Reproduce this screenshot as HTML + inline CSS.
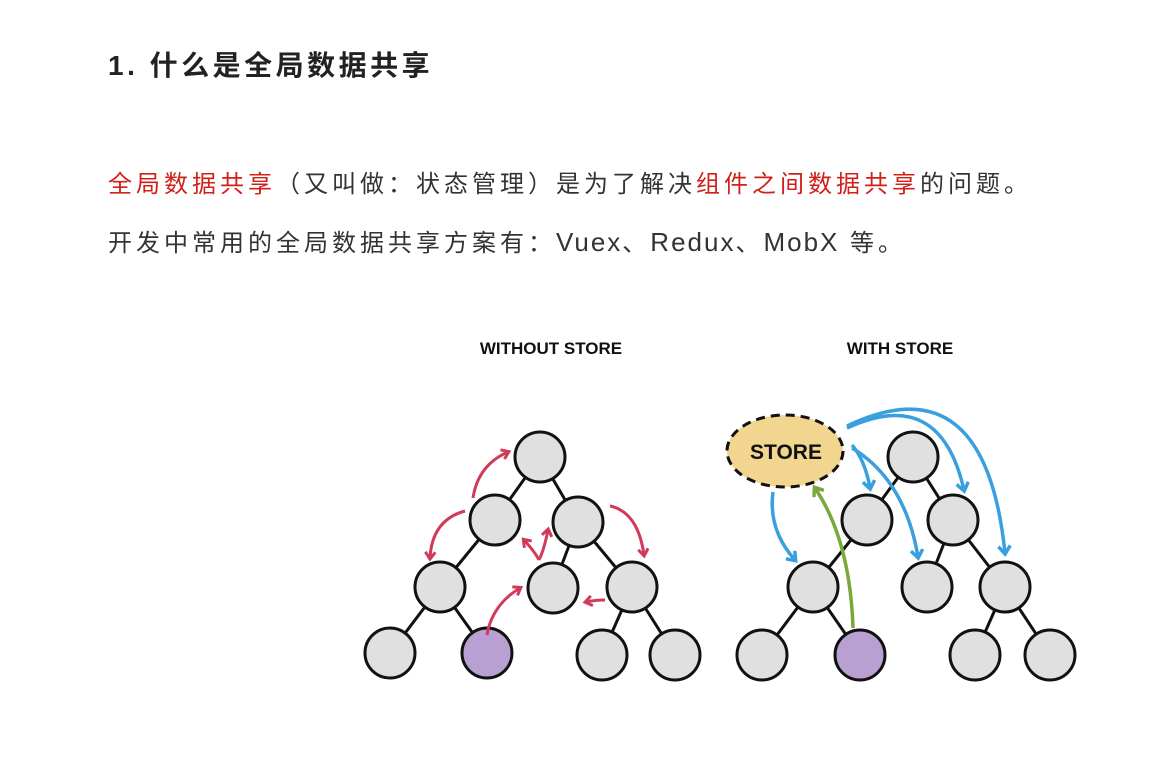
<!DOCTYPE html>
<html><head><meta charset="utf-8"><style>
body{margin:0;width:1161px;height:772px;background:#fff;overflow:hidden;position:relative;font-family:"Liberation Sans","Noto Sans CJK SC",sans-serif;}
.t{position:absolute;left:108px;top:44px;font-size:28px;font-weight:bold;color:#222;letter-spacing:3.5px;white-space:nowrap}
.p{position:absolute;left:108px;font-size:24px;color:#333;letter-spacing:4px;white-space:nowrap}
.r{color:#d0201a}
.l{letter-spacing:2px;font-size:26px}
svg{position:absolute;left:0;top:0}
</style></head><body>
<div class="t">1. 什么是全局数据共享</div>
<div class="p" style="top:164px"><span class="r">全局数据共享</span>（又叫做：状态管理）是为了解决<span class="r">组件之间数据共享</span>的问题。</div>
<div class="p" style="top:223px">开发中常用的全局数据共享方案有：<span class="l">Vuex</span>、<span class="l">Redux</span>、<span class="l">MobX</span> 等。</div>
<svg width="1161" height="772" viewBox="0 0 1161 772">
<defs>
<marker id="ar" markerWidth="12" markerHeight="12" refX="7" refY="6" orient="auto" markerUnits="userSpaceOnUse"><path d="M1,1 L8,6 L1,11" fill="none" stroke="#d23a5a" stroke-width="3"/></marker>
<marker id="ab" markerWidth="14" markerHeight="14" refX="8" refY="7" orient="auto" markerUnits="userSpaceOnUse"><path d="M1,1 L9,7 L1,13" fill="none" stroke="#3aa0dd" stroke-width="3.5"/></marker>
<marker id="ag" markerWidth="14" markerHeight="14" refX="8" refY="7" orient="auto" markerUnits="userSpaceOnUse"><path d="M1,1 L9,7 L1,13" fill="none" stroke="#7aa83a" stroke-width="3.5"/></marker>
</defs>
<text x="551" y="354" font-family="Liberation Sans" font-weight="bold" font-size="17" text-anchor="middle" fill="#111">WITHOUT STORE</text>
<text x="900" y="354" font-family="Liberation Sans" font-weight="bold" font-size="17" text-anchor="middle" fill="#111">WITH STORE</text>
<g stroke="#111" stroke-width="3">
<line x1="540" y1="457" x2="495" y2="520"/><line x1="540" y1="457" x2="578" y2="522"/>
<line x1="495" y1="520" x2="440" y2="587"/><line x1="578" y1="522" x2="553" y2="588"/><line x1="578" y1="522" x2="632" y2="587"/>
<line x1="440" y1="587" x2="390" y2="653"/><line x1="440" y1="587" x2="487" y2="653"/>
<line x1="632" y1="587" x2="602" y2="655"/><line x1="632" y1="587" x2="675" y2="655"/>
<line x1="913" y1="457" x2="867" y2="520"/><line x1="913" y1="457" x2="953" y2="520"/>
<line x1="867" y1="520" x2="813" y2="587"/><line x1="953" y1="520" x2="927" y2="587"/><line x1="953" y1="520" x2="1005" y2="587"/>
<line x1="813" y1="587" x2="762" y2="655"/><line x1="813" y1="587" x2="860" y2="655"/>
<line x1="1005" y1="587" x2="975" y2="655"/><line x1="1005" y1="587" x2="1050" y2="655"/>
</g>
<g stroke="#111" stroke-width="3" fill="#e0e0e0">
<circle cx="540" cy="457" r="25"/><circle cx="495" cy="520" r="25"/><circle cx="578" cy="522" r="25"/>
<circle cx="440" cy="587" r="25"/><circle cx="553" cy="588" r="25"/><circle cx="632" cy="587" r="25"/>
<circle cx="390" cy="653" r="25"/><circle cx="487" cy="653" r="25" fill="#b9a0d2"/><circle cx="602" cy="655" r="25"/><circle cx="675" cy="655" r="25"/>
<circle cx="913" cy="457" r="25"/><circle cx="867" cy="520" r="25"/><circle cx="953" cy="520" r="25"/>
<circle cx="813" cy="587" r="25"/><circle cx="927" cy="587" r="25"/><circle cx="1005" cy="587" r="25"/>
<circle cx="762" cy="655" r="25"/><circle cx="860" cy="655" r="25" fill="#b9a0d2"/><circle cx="975" cy="655" r="25"/><circle cx="1050" cy="655" r="25"/>
</g>
<g fill="none" stroke="#d23a5a" stroke-width="3" marker-end="url(#ar)">
<path d="M473,498 Q478,465 508,452"/>
<path d="M465,511 Q432,520 430,558"/>
<path d="M610,506 Q638,512 644,555"/>
<path d="M487,635 Q492,605 520,588"/>
<path d="M605,600 Q595,600 586,602"/>
<path d="M539,560 Q535,552 524,540"/>
<path d="M539,560 Q544,550 548,530"/>
</g>
<ellipse cx="785" cy="451" rx="58" ry="36" fill="#f2d58f" stroke="#111" stroke-width="3" stroke-dasharray="9,6"/>
<text x="786" y="459" font-family="Liberation Sans" font-weight="bold" font-size="21" text-anchor="middle" fill="#111">STORE</text>
<g fill="none" stroke="#3aa0dd" stroke-width="3.5" marker-end="url(#ab)">
<path d="M773,492 Q768,530 795,560"/>
<path d="M852,445 Q865,460 870,488"/>
<path d="M852,448 Q905,480 918,557"/>
<path d="M847,428 Q940,385 964,490"/>
<path d="M847,426 Q985,360 1005,553"/>
</g>
<path d="M853,628 Q850,540 815,488" fill="none" stroke="#7aa83a" stroke-width="3.5" marker-end="url(#ag)"/>
</svg>
</body></html>
